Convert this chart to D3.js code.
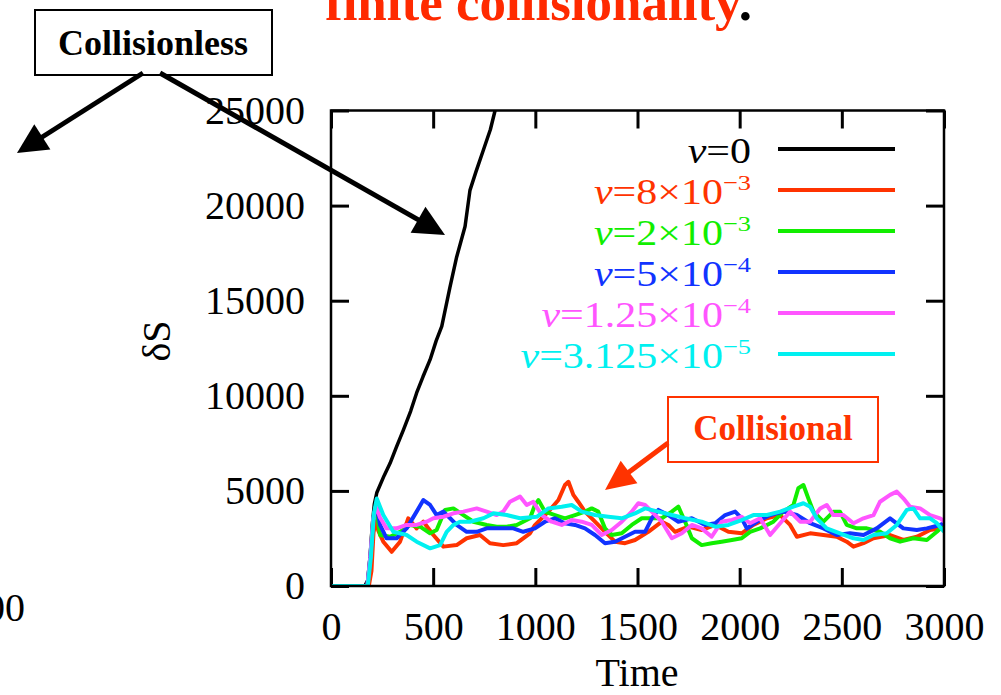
<!DOCTYPE html>
<html>
<head>
<meta charset="utf-8">
<script src="https://cdn.jsdelivr.net/npm/d3@7"></script>
<style>
  html, body { margin: 0; padding: 0; background: #fff; }
  svg { display: block; font-family: "Liberation Serif", "Times New Roman", serif; }
</style>
</head>
<body>
<script>
// Entropy variation δS versus time for different collision frequencies ν.
const xTicks = [0, 500, 1000, 1500, 2000, 2500, 3000];
const yTicks = [0, 5000, 10000, 15000, 20000, 25000];

// [time, δS] samples for each run
const nu0 = [[0,0],[165,0],[180,300],[192,1600],[202,3200],[212,4300],[224,4900],[260,5800],[289,6450],[320,7300],[354,8200],[390,9200],[419,10150],[450,11000],[485,11900],[515,12900],[542,13650],[582,15700],[615,17300],[656,18900],[680,20800],[710,21800],[745,22900],[780,24000],[803,25000],[830,26200]];

const nu8e3 = [[0,0],[185,0],[198,800],[208,2800],[218,3400],[232,2900],[256,2330],[297,1800],[338,2330],[378,3560],[419,3030],[452,3380],[501,2680],[550,2070],[615,2150],[664,2510],[729,2680],[778,2250],[843,2150],[909,2250],[974,2770],[998,3200],[1064,3910],[1113,4520],[1145,5310],[1162,5480],[1186,4790],[1210,4430],[1243,3910],[1292,3380],[1341,2850],[1390,2330],[1439,2250],[1488,2420],[1553,2850],[1619,3380],[1651,3210],[1684,2850],[1749,3120],[1814,2940],[1880,3210],[1945,2850],[2010,2770],[2067,3210],[2133,3560],[2198,3730],[2247,3210],[2280,2590],[2345,2770],[2410,2680],[2475,2590],[2524,2330],[2557,2070],[2606,2250],[2655,2510],[2736,2680],[2801,2420],[2867,2590],[2932,2940],[2981,3030],[3000,3100]];

const nu2e3 = [[0,0],[178,0],[192,1500],[206,3500],[220,4200],[240,2680],[289,2590],[338,2850],[387,3210],[436,3120],[485,2770],[517,2940],[558,4000],[599,4080],[648,3730],[697,3380],[762,3210],[811,3120],[860,3120],[909,3210],[974,3560],[998,4260],[1015,4520],[1047,3910],[1096,3730],[1145,3560],[1194,3730],[1243,3910],[1276,4080],[1308,3910],[1341,3030],[1374,2680],[1423,2770],[1472,3210],[1521,3560],[1570,3560],[1619,3560],[1668,3910],[1700,4170],[1733,3380],[1766,2510],[1814,2150],[1863,2250],[1912,2330],[1962,2420],[2010,2510],[2051,2850],[2100,3030],[2165,3380],[2214,3910],[2263,4260],[2287,5140],[2312,5310],[2336,4610],[2361,3910],[2410,3380],[2459,3910],[2491,3910],[2524,3210],[2573,3030],[2622,3030],[2687,2850],[2736,2510],[2785,2330],[2850,2510],[2916,2420],[2965,2850],[3000,3210]];

const nu5e4 = [[0,0],[178,0],[192,1500],[208,3600],[222,4300],[240,3210],[272,2510],[321,2510],[370,3030],[419,3910],[452,4520],[485,4260],[517,3730],[550,3910],[583,3560],[615,3210],[664,2850],[713,2850],[762,3030],[827,3030],[892,3030],[941,2850],[998,3030],[1047,3380],[1096,3560],[1145,3300],[1194,3210],[1243,3030],[1292,2680],[1341,2250],[1390,2330],[1439,2590],[1488,2850],[1537,2850],[1570,3560],[1602,4000],[1651,3730],[1700,3380],[1766,3560],[1831,3210],[1880,3300],[1929,3730],[1978,3910],[2010,3560],[2035,3030],[2084,3380],[2149,3730],[2214,3910],[2280,3730],[2345,3300],[2410,3030],[2475,2680],[2540,2770],[2606,2680],[2671,3030],[2736,3560],[2801,3030],[2867,2940],[2916,3030],[2981,3210],[3000,3300]];

const nu125e4 = [[0,0],[178,0],[192,1500],[206,3500],[220,4200],[240,3600],[272,3030],[321,3030],[370,3210],[419,3210],[468,3380],[501,3560],[550,3640],[599,3820],[648,3910],[713,4080],[762,3910],[811,3730],[843,3910],[876,4430],[925,4700],[958,4260],[990,4430],[1031,3730],[1080,3380],[1129,3210],[1178,3470],[1227,3380],[1276,3210],[1325,2680],[1374,2940],[1423,3380],[1472,3910],[1504,4350],[1537,4260],[1570,3910],[1619,3380],[1668,2510],[1717,2770],[1766,3210],[1814,3030],[1863,2590],[1912,3380],[1962,3470],[2010,3640],[2051,3300],[2100,3560],[2149,2680],[2198,3300],[2247,3910],[2296,3380],[2345,3380],[2394,4080],[2426,4260],[2459,3730],[2507,3730],[2557,3300],[2606,3560],[2655,3730],[2687,4430],[2736,4790],[2769,4960],[2801,4610],[2834,4170],[2883,4080],[2932,3730],[2981,3560],[3000,3400]];

const nu3125e5 = [[0,0],[180,0],[195,1500],[210,3800],[224,4600],[256,3730],[305,2850],[370,2680],[419,2330],[485,1980],[534,2150],[566,2850],[599,3210],[631,3380],[680,3380],[746,3560],[795,3820],[860,3730],[925,3560],[1007,3640],[1064,4080],[1129,4170],[1178,4260],[1227,3910],[1292,3730],[1357,3640],[1423,3560],[1488,3820],[1537,4080],[1602,3910],[1668,3730],[1733,3560],[1814,3380],[1880,3120],[1945,3210],[2010,3470],[2067,3730],[2133,3730],[2198,3910],[2263,4170],[2312,4350],[2345,4170],[2377,3560],[2426,3030],[2491,2770],[2557,2510],[2606,2420],[2655,2680],[2720,2770],[2769,3210],[2818,4000],[2850,4080],[2883,3560],[2932,3560],[2965,3300],[3000,2850]];

const seriesData = [nu0, nu8e3, nu2e3, nu5e4, nu125e4, nu3125e5];
const seriesColors = ["#000000", "#ff3300", "#11ee00", "#1133ff", "#ff55ff", "#00f0f0"];
const legendCoef = ["0", "8×10", "2×10", "5×10", "1.25×10", "3.125×10"];
const legendExp = ["", "−3", "−3", "−4", "−4", "−5"];

const W = 1001, H = 695;
const svg = d3.select("body").append("svg").attr("width", W).attr("height", H);

const x = d3.scaleLinear().domain([0, 3000]).range([331, 944]);
const y = d3.scaleLinear().domain([0, 25000]).range([586, 110.5]);

// clip for the curves
svg.append("defs").append("clipPath").attr("id", "plotClip")
  .append("rect")
  .attr("x", x(0)).attr("y", y(25000))
  .attr("width", x(3000) - x(0)).attr("height", y(0) - y(25000));

// axes with inward ticks
const TICK = 18;
function styleAxis(g) {
  g.select(".domain").remove();
  g.selectAll(".tick line").attr("stroke", "#000").attr("stroke-width", 3);
  g.selectAll(".tick text").attr("fill", "#000")
    .style("font-size", "40px").style("font-family", "'Liberation Serif', serif");
}
svg.append("g").attr("transform", `translate(0,${y(0)})`)
  .call(d3.axisBottom(x).tickValues(xTicks).tickSize(-TICK).tickPadding(26).tickFormat(d3.format("d")))
  .call(styleAxis);
svg.append("g").attr("transform", `translate(0,${y(25000)})`)
  .call(d3.axisTop(x).tickValues(xTicks).tickSize(-TICK).tickFormat(""))
  .call(styleAxis);
svg.append("g").attr("transform", `translate(${x(0)},0)`)
  .call(d3.axisLeft(y).tickValues(yTicks).tickSize(-TICK).tickPadding(26).tickFormat(d3.format("d")))
  .call(styleAxis);
svg.append("g").attr("transform", `translate(${x(3000)},0)`)
  .call(d3.axisRight(y).tickValues(yTicks).tickSize(-TICK).tickFormat(""))
  .call(styleAxis);

// curves
const line = d3.line().x(d => x(d[0])).y(d => y(d[1]));
const curves = svg.append("g").attr("clip-path", "url(#plotClip)");
seriesData.forEach((s, i) => {
  curves.append("path").datum(s)
    .attr("d", line)
    .attr("fill", "none")
    .attr("stroke", seriesColors[i])
    .attr("stroke-width", i === 0 ? 3.5 : 4)
    .attr("stroke-linejoin", "round");
});

// frame
svg.append("rect")
  .attr("x", x(0)).attr("y", y(25000))
  .attr("width", x(3000) - x(0)).attr("height", y(0) - y(25000))
  .attr("fill", "none").attr("stroke", "#000").attr("stroke-width", 2.5);

// axis titles
svg.append("text").attr("x", 637).attr("y", 686).attr("text-anchor", "middle")
  .style("font-size", "40px").text("Time");
svg.append("text").attr("transform", "translate(170,341) rotate(-90)")
  .attr("text-anchor", "middle").style("font-size", "40px").text("δS");

// legend
const legend = svg.append("g");
seriesData.forEach((s, i) => {
  const base = 163 + i * 41;
  const g = legend.append("g").attr("transform", `translate(751,${base}) scale(1.2,1)`);
  const t = g.append("text").attr("text-anchor", "end").attr("fill", seriesColors[i])
    .style("font-size", "35px");
  t.append("tspan").style("font-style", "italic").text("ν");
  t.append("tspan").text("=" + legendCoef[i]);
  if (legendExp[i]) {
    t.append("tspan").attr("dy", -14).style("font-size", "22px").text(legendExp[i]);
  }
  legend.append("line")
    .attr("x1", 778).attr("x2", 895)
    .attr("y1", base - 14).attr("y2", base - 14)
    .attr("stroke", seriesColors[i]).attr("stroke-width", 4);
});

// title fragment at the top
svg.append("text").attr("x", 325).attr("y", 20)
  .style("font-size", "53px").style("font-weight", "bold")
  .call(t => {
    t.append("tspan").attr("fill", "#ff2a00").text("finite collisionality");
    t.append("tspan").attr("fill", "#000").text(".");
  });

// neighbouring panel label at the bottom left
svg.append("text").attr("x", 25).attr("y", 621).attr("text-anchor", "end")
  .style("font-size", "40px").text("3000");

// arrow helper
function arrow(x0, y0, x1, y1, color, width, headLen, headHalf) {
  const dx = x1 - x0, dy = y1 - y0, L = Math.hypot(dx, dy);
  const ux = dx / L, uy = dy / L;
  const bx = x1 - ux * headLen, by = y1 - uy * headLen;
  svg.append("line").attr("x1", x0).attr("y1", y0).attr("x2", bx + ux * 2).attr("y2", by + uy * 2)
    .attr("stroke", color).attr("stroke-width", width);
  svg.append("polygon")
    .attr("points", [[x1, y1], [bx - uy * headHalf, by + ux * headHalf], [bx + uy * headHalf, by - ux * headHalf]].map(p => p.join(",")).join(" "))
    .attr("fill", color);
}

// "Collisionless" callout
svg.append("rect").attr("x", 35).attr("y", 10).attr("width", 237).attr("height", 65)
  .attr("fill", "#fff").attr("stroke", "#000").attr("stroke-width", 2);
svg.append("text").attr("x", 153).attr("y", 55).attr("text-anchor", "middle")
  .style("font-size", "36px").style("font-weight", "bold").text("Collisionless");
arrow(143, 73, 17, 153, "#000", 5, 30, 15);
arrow(160, 73, 445, 235, "#000", 5, 31, 15);

// "Collisional" callout
svg.append("rect").attr("x", 668).attr("y", 397).attr("width", 210).attr("height", 65)
  .attr("fill", "#fff").attr("stroke", "#ff3300").attr("stroke-width", 2);
svg.append("text").attr("x", 773).attr("y", 440).attr("text-anchor", "middle")
  .attr("fill", "#ff3300")
  .style("font-size", "35px").style("font-weight", "bold").text("Collisional");
arrow(668, 443, 605, 490, "#ff3300", 5, 30, 14);
</script>
</body>
</html>
